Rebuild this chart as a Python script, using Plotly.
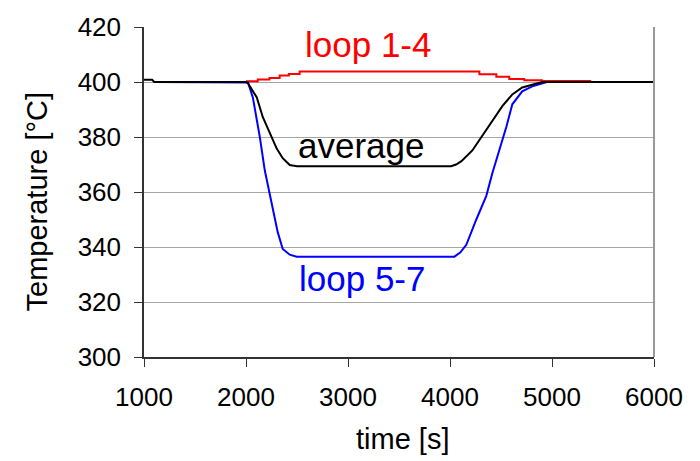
import plotly.graph_objects as go

# Average temperature
avg_t = [1000, 1080, 1100, 2000, 2020, 2060, 2106, 2164, 2233, 2301, 2360, 2429, 2500,
         4010, 4060, 4112, 4219, 4317, 4415, 4513, 4611, 4708, 4806, 4904, 5000, 6000]
avg_v = [400.8, 400.8, 400, 400, 399.5, 397, 394.4, 387.3, 381.2, 375.8, 372.3, 369.8, 369.4,
         369.4, 370, 371.2, 375.1, 380.5, 385.8, 391.2, 395.5, 398, 399, 400, 400, 400]

# Loops 5-7
l57_t = [1100, 2000, 2020, 2067, 2135, 2184, 2252, 2311, 2360, 2429, 2497,
         4043, 4100, 4160, 4258, 4356, 4415, 4483, 4552, 4611, 4708, 4806, 4924, 4950]
l57_v = [400, 400, 399.8, 394.4, 380.1, 367.9, 356.1, 345.4, 339.3, 337.2, 336.5,
         336.5, 338, 340.8, 350, 358.6, 366.8, 375.1, 383.6, 391.9, 396.6, 398.4, 399.5, 400]

# Loops 1-4 (stepped record)
l14_t = [2000, 2115, 2230, 2330, 2420, 2526, 4288, 4454, 4581, 4728, 4900, 5384]
l14_v = [400.3, 400.9, 401.5, 402.4, 402.9, 403.8, 402.8, 401.9, 401.1, 400.6, 400.4, 400.4]

FONT = "Liberation Sans, Arial, sans-serif"

fig = go.Figure()
fig.add_trace(go.Scatter(x=l14_t, y=l14_v, mode="lines", line=dict(color="#ff0000", width=2, shape="hv")))
fig.add_trace(go.Scatter(x=l57_t, y=l57_v, mode="lines", line=dict(color="#0000ff", width=2)))
fig.add_trace(go.Scatter(x=avg_t, y=avg_v, mode="lines", line=dict(color="#000000", width=2)))

fig.add_annotation(x=3192, y=413.8, text="loop 1-4", showarrow=False,
                   font=dict(family=FONT, size=35, color="#ff0000"))
fig.add_annotation(x=3123, y=377.0, text="average", showarrow=False,
                   font=dict(family=FONT, size=35, color="#000000"))
fig.add_annotation(x=3138, y=328.5, text="loop 5-7", showarrow=False,
                   font=dict(family=FONT, size=35, color="#0000ff"))

# axis titles
fig.add_annotation(xref="paper", yref="paper", x=0.506, y=-0.247, text="time [s]",
                   showarrow=False, xanchor="center", yanchor="middle",
                   font=dict(family=FONT, size=29, color="black"))
fig.add_annotation(xref="paper", yref="paper", x=-0.21, y=0.471, text="Temperature [°C]",
                   showarrow=False, textangle=-90, xanchor="center", yanchor="middle",
                   font=dict(family=FONT, size=29, color="black"))

# right border of the plot area
fig.add_shape(type="line", xref="paper", yref="paper", x0=1, x1=1, y0=0, y1=1,
              line=dict(color="#999999", width=2))

fig.update_layout(
    width=700, height=461,
    margin=dict(l=144, r=46, t=21, b=104),
    paper_bgcolor="white", plot_bgcolor="white",
    showlegend=False,
    font=dict(family=FONT, size=26, color="black"),
)
fig.update_xaxes(
    range=[1000, 6000], dtick=1000, tick0=1000,
    showgrid=False, zeroline=False,
    showline=True, linecolor="#333333", linewidth=1.5,
    ticks="outside", ticklen=8, tickcolor="#333333", tickwidth=1,
    ticklabelstandoff=8,
    tickfont=dict(size=26),
)
fig.update_yaxes(
    range=[300, 420], dtick=20, tick0=300,
    showgrid=True, gridcolor="#a6a6a6", gridwidth=1, zeroline=False,
    showline=True, linecolor="#333333", linewidth=1.5,
    ticks="outside", ticklen=8, tickcolor="#333333", tickwidth=1,
    ticklabelstandoff=8,
    tickfont=dict(size=26),
)

fig.write_html("out.html")
